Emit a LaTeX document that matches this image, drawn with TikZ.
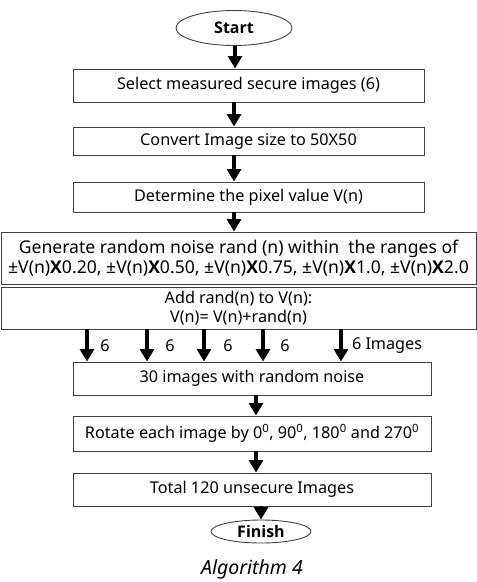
\documentclass[tikz,border=0pt]{standalone}
\usepackage{fontspec}
\setmainfont{Noto Sans}
\newfontfamily\obold{Open Sans}
\newcommand{\bX}{{\obold\bfseries X}}
\usetikzlibrary{arrows.meta,shapes.geometric}
\begin{document}
\begin{tikzpicture}[x=1bp,y=-1bp,
  every node/.style={font=\fontsize{16.2bp}{18.5bp}\selectfont, text=black},
  box/.style={draw=black!75, line width=0.9bp, rectangle, inner sep=0pt, align=center},
  term/.style={draw=black!75, line width=0.9bp, ellipse, inner sep=0pt, font=\fontsize{16bp}{18bp}\selectfont\obold\bfseries},
  arr/.style={line width=4.4bp, -{Triangle[width=14bp,length=12.5bp]}, black}
]
\useasboundingbox (0,0) rectangle (477,582);
\node[term, minimum width=116bp, minimum height=35bp] (start) at (234,28) {Start};
\node[box, minimum width=351bp, minimum height=33bp] (b1) at (248.5,85.5) {Select measured secure images (6)};
\node[box, minimum width=351bp, minimum height=28bp] (b2) at (248.5,141) {Convert Image size to 50X50};
\node[box, minimum width=351bp, minimum height=30bp] (b3) at (248.5,197) {Determine the pixel value V(n)};
\node[box, minimum width=475bp, minimum height=52bp, font=\fontsize{17.6bp}{20.5bp}\selectfont] (b4) at (238.5,258) {Generate random noise rand (n) within\ \ the ranges of\\±V(n)\bX0.20, ±V(n)\bX0.50, ±V(n)\bX0.75, ±V(n)\bX1.0, ±V(n)\bX2.0};
\node[box, minimum width=475bp, minimum height=42bp] (b5) at (238.5,308) {Add rand(n) to V(n):\\V(n)= V(n)+rand(n)};
\node[box, minimum width=358bp, minimum height=33bp] (b6) at (252,378.5) {30 images with random noise};
\node[box, minimum width=358bp, minimum height=35bp] (b7) at (252,433.5) {Rotate each image by 0\textsuperscript{0}, 90\textsuperscript{0}, 180\textsuperscript{0} and 270\textsuperscript{0}};
\node[box, minimum width=358bp, minimum height=33bp] (b8) at (252,489.5) {Total 120 unsecure Images};
\node[term, minimum width=100bp, minimum height=23bp] (fin) at (261,531.5) {Finish};
\node[font=\fontsize{19.5bp}{22bp}\selectfont\itshape] (cap) at (252,569) {Algorithm 4};

\draw[arr] (start.south -| 235,0) -- (b1.north -| 235,0);
\draw[arr] (b1.south -| 234,0) -- (b2.north -| 234,0);
\draw[arr] (b2.south -| 234,0) -- (b3.north -| 234,0);
\draw[arr] (b3.south -| 234,0) -- (b4.north -| 234,0);
\foreach \i/\x in {1/87,2/147,3/204,4/263,5/341}{
  \coordinate (c\i) at (\x,0);
  \draw[arr] (b5.south -| c\i) -- (b6.north -| c\i);
}
\node (l1) at (105,346) {6};
\node (l2) at (170,346) {6};
\node (l3) at (228,346) {6};
\node (l4) at (285,346) {6};
\node[anchor=west] (l5) at (348.5,346) {6 Images};
\draw[arr] (b6.south -| 256,0) -- (b7.north -| 256,0);
\draw[arr] (b7.south -| 256,0) -- (b8.north -| 256,0);
\draw[arr] (b8.south -| 261,0) -- (fin.north -| 261,0);
\end{tikzpicture}
\end{document}
